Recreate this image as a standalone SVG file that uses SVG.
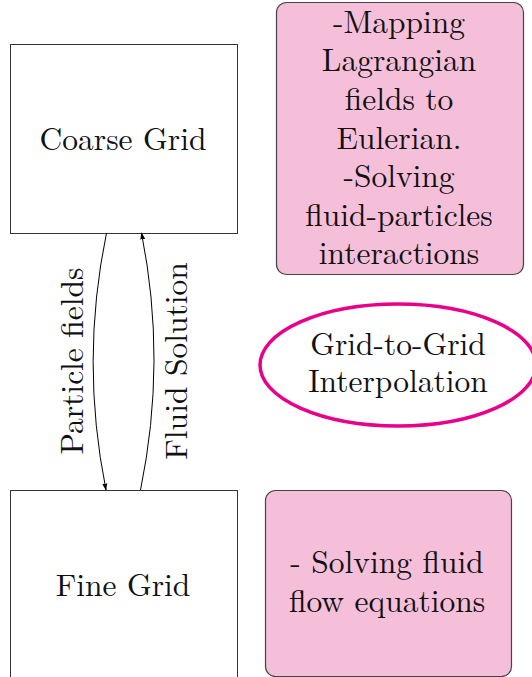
<svg xmlns="http://www.w3.org/2000/svg" width="532" height="677" viewBox="0 0 532 677">
<defs>
<style>
text{font-family:'Latin Modern Roman','CMU Serif','Noto Serif CJK SC','Liberation Serif',serif;font-size:31.5px;fill:#111;text-anchor:middle}
.grid{fill:#fff;stroke:#333;stroke-width:1}
.pink{fill:#f6bfd9;stroke:#444;stroke-width:1.2}
.edge{fill:none;stroke:#000;stroke-width:1}
</style>
<marker id="ah" viewBox="0 0 10 10" refX="9" refY="5" markerWidth="7" markerHeight="7" markerUnits="userSpaceOnUse" orient="auto">
<path d="M0,1.5 L10,5 L0,8.5 Z" fill="#000"/>
</marker>
</defs>
<rect width="532" height="677" fill="#fff"/>
<g id="coarse">
<rect class="grid" x="10.5" y="44.5" width="227" height="189"/>
<text x="123" y="150">Coarse Grid</text>
</g>
<g id="fine">
<rect class="grid" x="10.5" y="490.5" width="227" height="200"/>
<text x="123" y="596">Fine Grid</text>
</g>
<g id="mapping">
<rect class="pink" x="276.5" y="2.5" width="247" height="272" rx="10"/>
<text x="399" y="33">-Mapping</text>
<text x="399" y="71">Lagrangian</text>
<text x="399" y="110">fields to</text>
<text x="399" y="149">Eulerian.</text>
<text x="399" y="187">-Solving</text>
<text x="399" y="226">fluid-particles</text>
<text x="399" y="264">interactions</text>
</g>
<g id="interp">
<ellipse cx="398" cy="365" rx="138" ry="61" fill="none" stroke="#e8008a" stroke-width="3.5"/>
<text x="398" y="355">Grid-to-Grid</text>
<text x="398" y="392">Interpolation</text>
</g>
<g id="solver">
<rect class="pink" x="265.5" y="490.5" width="246" height="186" rx="10"/>
<text x="387" y="573">- Solving fluid</text>
<text x="387" y="612">flow equations</text>
</g>
<g id="connectors">
<path class="edge" d="M106.5,233 Q80,361 106,490" marker-end="url(#ah)"/>
<path class="edge" d="M140.5,490 Q167,361 141.5,233" marker-end="url(#ah)"/>
<text transform="translate(83,361) rotate(-90)">Particle fields</text>
<text transform="translate(187,361) rotate(-90)">Fluid Solution</text>
</g>
</svg>
